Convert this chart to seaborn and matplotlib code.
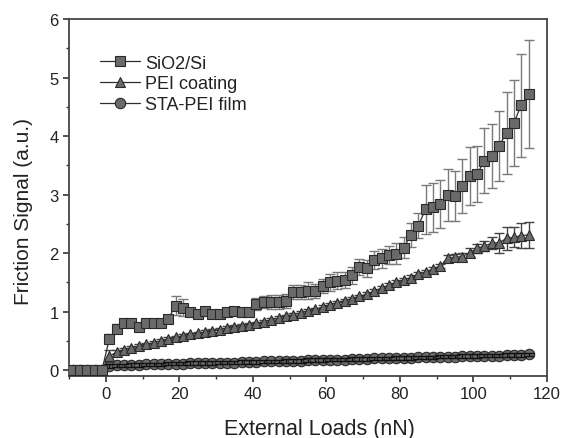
import numpy as np
import pandas as pd
import matplotlib
matplotlib.use('Agg')
import matplotlib.pyplot as plt
import seaborn as sns
from matplotlib.ticker import MultipleLocator

# External load (nN) for every measured point
loads = [-9, -7, -5, -3, -1, 1, 3, 5, 7, 9, 11, 13, 15, 17, 19, 21, 23, 25, 27, 29,
         31, 33, 35, 37, 39, 41, 43, 45, 47, 49, 51, 53, 55, 57, 59, 61, 63, 65, 67, 69,
         71, 73, 75, 77, 79, 81, 83, 85, 87, 89, 91, 93, 95, 97, 99, 101, 103, 105, 107,
         109, 111, 113, 115]

sio2 = [0.01, 0.01, 0.01, 0.01, 0.01, 0.54, 0.71, 0.81, 0.80, 0.73, 0.80, 0.80, 0.80, 0.88,
        1.10, 1.07, 0.99, 0.96, 1.01, 0.96, 0.96, 0.99, 1.01, 0.99, 0.99, 1.13, 1.16, 1.17,
        1.17, 1.18, 1.33, 1.34, 1.36, 1.36, 1.44, 1.50, 1.53, 1.54, 1.62, 1.76, 1.74, 1.88,
        1.91, 1.97, 1.99, 2.09, 2.31, 2.47, 2.75, 2.78, 2.84, 2.99, 2.98, 3.15, 3.32, 3.35,
        3.58, 3.66, 3.83, 4.06, 4.22, 4.53, 4.72]
sio2_err = [0.03, 0.03, 0.03, 0.03, 0.03, 0.08, 0.08, 0.05, 0.04, 0.04, 0.04, 0.04, 0.04, 0.05,
            0.16, 0.14, 0.06, 0.05, 0.06, 0.05, 0.06, 0.05, 0.05, 0.06, 0.06, 0.10, 0.10, 0.12,
            0.12, 0.12, 0.12, 0.12, 0.14, 0.12, 0.12, 0.14, 0.14, 0.14, 0.14, 0.14, 0.15, 0.15,
            0.16, 0.16, 0.18, 0.18, 0.20, 0.22, 0.42, 0.42, 0.41, 0.44, 0.43, 0.46, 0.50, 0.48,
            0.55, 0.55, 0.60, 0.70, 0.73, 0.88, 0.93]

pei = [0.0, 0.0, 0.0, 0.0, 0.0, 0.24, 0.31, 0.35, 0.38, 0.41, 0.44, 0.47, 0.50, 0.53, 0.56,
       0.59, 0.61, 0.63, 0.65, 0.67, 0.69, 0.72, 0.74, 0.76, 0.78, 0.80, 0.83, 0.86, 0.89,
       0.92, 0.95, 0.98, 1.01, 1.04, 1.08, 1.12, 1.15, 1.19, 1.22, 1.26, 1.30, 1.35, 1.40,
       1.45, 1.50, 1.54, 1.58, 1.64, 1.67, 1.73, 1.78, 1.91, 1.93, 1.94, 2.01, 2.08, 2.12,
       2.17, 2.18, 2.25, 2.27, 2.30, 2.31]
pei_err = [0.02, 0.02, 0.02, 0.02, 0.02, 0.10, 0.04, 0.03, 0.03, 0.03, 0.03, 0.03, 0.03, 0.03,
           0.03, 0.03, 0.03, 0.03, 0.03, 0.03, 0.03, 0.03, 0.03, 0.03, 0.03, 0.03, 0.03, 0.03,
           0.03, 0.03, 0.03, 0.03, 0.03, 0.03, 0.03, 0.03, 0.03, 0.03, 0.03, 0.03, 0.03, 0.03,
           0.03, 0.04, 0.04, 0.04, 0.04, 0.04, 0.04, 0.04, 0.04, 0.05, 0.06, 0.06, 0.07, 0.08,
           0.09, 0.10, 0.17, 0.19, 0.17, 0.21, 0.22]

sta = [0.0, 0.0, 0.0, 0.0, 0.0, 0.07, 0.08, 0.08, 0.09, 0.09, 0.10, 0.10, 0.10, 0.11, 0.11,
       0.11, 0.12, 0.12, 0.12, 0.12, 0.13, 0.13, 0.13, 0.14, 0.14, 0.14, 0.15, 0.15, 0.15,
       0.16, 0.16, 0.16, 0.17, 0.17, 0.17, 0.18, 0.18, 0.18, 0.19, 0.19, 0.19, 0.20, 0.20,
       0.20, 0.21, 0.21, 0.21, 0.22, 0.22, 0.22, 0.23, 0.23, 0.23, 0.24, 0.24, 0.24, 0.25,
       0.25, 0.25, 0.26, 0.26, 0.26, 0.27]
sta_err = [0.03] * len(loads)

labels = ['SiO2/Si', 'PEI coating', 'STA-PEI film']

sns.set_style('ticks')
plt.rcParams['font.family'] = ['Liberation Sans', 'DejaVu Sans']

fig = plt.figure(figsize=(5.64, 4.39), dpi=100)
ax = fig.add_axes([0.1223, 0.1412, 0.8475, 0.8132])

# values, errors, label, marker, marker size, errorbar colour, zorder of bars, zorder of marks
series = [
    (sio2, sio2_err, labels[0], 's', 6.5, '#7a7a7a', 3, 3.5),
    (pei, pei_err, labels[1], '^', 7.5, '#444444', 2, 2.5),
    (sta, sta_err, labels[2], 'o', 7.5, '#111111', 1.8, 1.5),
]

for vals, errs, lab, mk, ms, ecol, zb, zm in series:
    ax.errorbar(loads, vals, yerr=errs, fmt='none', ecolor=ecol, elinewidth=1.0,
                capsize=3.5, capthick=1.0, zorder=zb)
    df = pd.DataFrame({'load': loads, 'signal': vals})
    sns.lineplot(data=df, x='load', y='signal', ax=ax, label=lab, marker=mk,
                 markersize=ms, color='#2e2e2e', linewidth=0.9,
                 markerfacecolor='#6a6a6a', markeredgecolor='#2a2a2a',
                 markeredgewidth=0.8, zorder=zm)

ax.set_xlim(-10, 120)
ax.set_ylim(-0.1, 6)
ax.xaxis.set_major_locator(MultipleLocator(20))
ax.xaxis.set_minor_locator(MultipleLocator(10))
ax.yaxis.set_major_locator(MultipleLocator(1))
ax.yaxis.set_minor_locator(MultipleLocator(0.5))
ax.tick_params(which='major', direction='out', length=4, width=1.2, colors='#333333',
               labelsize=12, labelcolor='#222222')
ax.tick_params(which='minor', direction='out', length=2.5, width=1.0, colors='#333333')
for sp in ax.spines.values():
    sp.set_color('#444444')
    sp.set_linewidth(1.3)

ax.set_xlabel('External Loads (nN)', fontsize=15.5, color='#222222')
ax.set_ylabel('Friction Signal (a.u.)', fontsize=15, color='#222222')
ax.xaxis.set_label_coords(0.525, -0.118)
ax.yaxis.set_label_coords(-0.075, 0.465)

leg = ax.legend(loc='upper left', bbox_to_anchor=(0.05, 0.92), frameon=False,
                fontsize=13, handlelength=2.2, handletextpad=0.3, labelspacing=0.2,
                borderaxespad=0)
for t in leg.get_texts():
    t.set_color('#222222')

fig.savefig('out.png', dpi=100)
